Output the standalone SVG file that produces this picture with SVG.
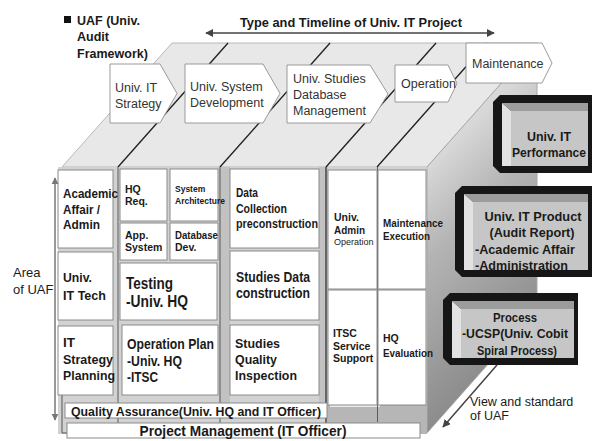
<svg xmlns="http://www.w3.org/2000/svg" width="596" height="441" viewBox="0 0 596 441">
<defs>
<style>
.t{font-family:"Liberation Sans",Arial,sans-serif;fill:#1a1a1a}
.b{font-weight:bold}
.ch{font-size:12.5px;fill:#333}
.cell{fill:#fff;stroke:#8a8a8a;stroke-width:1}
.chev{fill:#fff;stroke:#9a9a9a;stroke-width:1}
.dl{stroke:#1e1e1e;stroke-width:1.3}
.col{stroke:#5a5a5a;stroke-width:1}
.blk{fill:#161616}
.bt{fill:#9c9c9c}
.bl{fill:#e2e2e2}
.bf{fill:#c6c6c6}
.arr{fill:none;stroke-width:1.5}
</style>
<linearGradient id="side" x1="427" y1="167" x2="560" y2="300" gradientUnits="userSpaceOnUse">
<stop offset="0" stop-color="#d8d8d8"/>
<stop offset="0.35" stop-color="#b4b4b4"/>
<stop offset="1" stop-color="#8c8c8c"/>
</linearGradient>
<marker id="ahD" viewBox="0 0 10 10" refX="9" refY="5" markerWidth="8" markerHeight="8" markerUnits="userSpaceOnUse" orient="auto-start-reverse">
<path d="M0,0 L10,5 L0,10 z" fill="#444"/>
</marker>
<marker id="ahG" viewBox="0 0 10 10" refX="9" refY="5" markerWidth="7" markerHeight="8" markerUnits="userSpaceOnUse" orient="auto-start-reverse">
<path d="M0,0 L10,5 L0,10 z" fill="#777"/>
</marker>
</defs>
<rect width="596" height="441" fill="#fff"/>

<!-- title -->
<g id="title">
<rect x="64" y="16" width="7" height="7" fill="#111"/>
<text class="t b" font-size="12.5" x="77" y="25">UAF (Univ.</text>
<text class="t b" font-size="12.5" x="77" y="41">Audit</text>
<text class="t b" font-size="12.5" x="77" y="58">Framework)</text>
</g>
<g id="timeline-title">
<text class="t b" font-size="13" x="240" y="27" textLength="222" lengthAdjust="spacingAndGlyphs">Type and Timeline of Univ. IT Project</text>
</g>

<!-- cube top face -->
<g id="top-face">
<polygon points="62,167 172,43 537,43 427,167" fill="#e8e8e8" stroke="#b8b8b8" stroke-width="1"/>
<line class="dl" x1="118" y1="167" x2="228" y2="43"/>
<line class="dl" x1="220" y1="167" x2="330" y2="43"/>
<line class="dl" x1="326" y1="167" x2="436" y2="43"/>
<line class="dl" x1="377" y1="167" x2="487" y2="43"/>
</g>

<!-- cube right face -->
<g id="right-face">
<polygon points="427,167 537,43 537,309 427,433" fill="url(#side)" stroke="#a8a8a8" stroke-width="1"/>
</g>

<!-- chevrons -->
<g id="stage-strategy">
<polygon class="chev" points="110,64 160,64 177,93.5 160,123 110,123"/>
<text class="t ch" x="115" y="92">Univ. IT</text>
<text class="t ch" x="115" y="108">Strategy</text>
</g>
<g id="stage-system">
<polygon class="chev" points="185,64 263,64 280,93.5 263,123 185,123"/>
<text class="t ch" x="190" y="91">Univ. System</text>
<text class="t ch" x="190" y="107">Development</text>
</g>
<g id="stage-database">
<polygon class="chev" points="287,65 370,65 388,94 370,123 287,123"/>
<text class="t ch" x="293" y="83">Univ. Studies</text>
<text class="t ch" x="293" y="99">Database</text>
<text class="t ch" x="293" y="115">Management</text>
</g>
<g id="stage-operation">
<polygon class="chev" points="395,65 448,65 457,83.5 448,102 395,102"/>
<text class="t ch" x="401" y="88">Operation</text>
</g>
<g id="stage-maintenance">
<polygon class="chev" points="466,43 542,43 552,63 542,83 466,83"/>
<text class="t ch" x="472" y="68">Maintenance</text>
</g>

<!-- front face -->
<g id="front-face">
<rect x="58" y="167" width="369" height="267" fill="#d2d2d2"/>
<rect x="219" y="167" width="11" height="236" fill="#c2c2c2"/>
<rect x="319" y="167" width="9" height="236" fill="#c2c2c2"/>
<rect x="327" y="405" width="100" height="29" fill="#b6b6b6"/>
<rect x="330" y="403" width="50" height="4" fill="#ececec"/>
<line x1="62" y1="395" x2="62" y2="433" stroke="#555" stroke-width="1"/>
<line x1="62" y1="433" x2="67" y2="433" stroke="#555" stroke-width="1"/>
<line class="col" x1="118" y1="167" x2="118" y2="433"/>
<line class="col" x1="220" y1="167" x2="220" y2="433"/>
<line x1="326" y1="167" x2="326" y2="433" stroke="#333" stroke-width="1.3"/>
<line class="col" x1="377.5" y1="167" x2="377.5" y2="422"/>
</g>

<g id="cell-academic">
<rect class="cell" x="58" y="170" width="55" height="78"/>
<text class="t b" font-size="13.5" x="63" y="198" textLength="55" lengthAdjust="spacingAndGlyphs">Academic</text>
<text class="t b" font-size="13.5" x="63" y="214" textLength="37" lengthAdjust="spacingAndGlyphs">Affair /</text>
<text class="t b" font-size="13.5" x="63" y="229" textLength="37" lengthAdjust="spacingAndGlyphs">Admin</text>
</g>
<g id="cell-ittech">
<rect class="cell" x="58" y="252" width="55" height="68"/>
<text class="t b" font-size="13.5" x="63" y="282" textLength="29" lengthAdjust="spacingAndGlyphs">Univ.</text>
<text class="t b" font-size="13.5" x="63" y="300" textLength="43" lengthAdjust="spacingAndGlyphs">IT Tech</text>
</g>
<g id="cell-itplanning">
<rect class="cell" x="58" y="326" width="55" height="69"/>
<text class="t b" font-size="13.5" x="63" y="347">IT</text>
<text class="t b" font-size="13.5" x="63" y="363.5" textLength="50" lengthAdjust="spacingAndGlyphs">Strategy</text>
<text class="t b" font-size="13.5" x="63" y="380" textLength="52" lengthAdjust="spacingAndGlyphs">Planning</text>
</g>

<g id="cell-hqreq">
<rect class="cell" x="120" y="169" width="47" height="52"/>
<text class="t b" font-size="10.5" x="125" y="193">HQ</text>
<text class="t b" font-size="10.5" x="125" y="205">Req.</text>
</g>
<g id="cell-sysarch">
<rect class="cell" x="170" y="169" width="48" height="52"/>
<text class="t b" font-size="8.5" x="175" y="192">System</text>
<text class="t b" font-size="8.5" x="175" y="204">Architecture</text>
</g>
<g id="cell-appsys">
<rect class="cell" x="120" y="223" width="47" height="37"/>
<text class="t b" font-size="10.5" x="125" y="239">App.</text>
<text class="t b" font-size="10.5" x="125" y="251">System</text>
</g>
<g id="cell-dbdev">
<rect class="cell" x="170" y="223" width="48" height="37"/>
<text class="t b" font-size="10.5" x="175" y="239" textLength="43" lengthAdjust="spacingAndGlyphs">Database</text>
<text class="t b" font-size="10.5" x="175" y="251">Dev.</text>
</g>
<g id="cell-testing">
<rect class="cell" x="120" y="263" width="97" height="57"/>
<text class="t b" font-size="17" x="126" y="289" textLength="47" lengthAdjust="spacingAndGlyphs">Testing</text>
<text class="t b" font-size="17" x="126" y="307" textLength="62" lengthAdjust="spacingAndGlyphs">-Univ. HQ</text>
</g>
<g id="cell-opplan">
<rect class="cell" x="122" y="325" width="96" height="70"/>
<text class="t b" font-size="15" x="127" y="349" textLength="87" lengthAdjust="spacingAndGlyphs">Operation Plan</text>
<text class="t b" font-size="15" x="127" y="366" textLength="55" lengthAdjust="spacingAndGlyphs">-Univ. HQ</text>
<text class="t b" font-size="15" x="127" y="382" textLength="31" lengthAdjust="spacingAndGlyphs">-ITSC</text>
</g>

<g id="cell-datacollection">
<rect class="cell" x="230" y="169" width="89" height="79"/>
<text class="t b" font-size="12.5" x="236" y="197" textLength="22" lengthAdjust="spacingAndGlyphs">Data</text>
<text class="t b" font-size="12.5" x="236" y="213" textLength="51" lengthAdjust="spacingAndGlyphs">Collection</text>
<text class="t b" font-size="12.5" x="236" y="228" textLength="82" lengthAdjust="spacingAndGlyphs">preconstruction</text>
</g>
<g id="cell-studiesdata">
<rect class="cell" x="230" y="251" width="89" height="69"/>
<text class="t b" font-size="14" x="236" y="282" textLength="74" lengthAdjust="spacingAndGlyphs">Studies Data</text>
<text class="t b" font-size="14" x="236" y="298" textLength="74" lengthAdjust="spacingAndGlyphs">construction</text>
</g>
<g id="cell-quality">
<rect class="cell" x="230" y="325" width="89" height="70"/>
<text class="t b" font-size="13.5" x="235" y="348" textLength="45" lengthAdjust="spacingAndGlyphs">Studies</text>
<text class="t b" font-size="13.5" x="235" y="364" textLength="42" lengthAdjust="spacingAndGlyphs">Quality</text>
<text class="t b" font-size="13.5" x="235" y="380" textLength="62" lengthAdjust="spacingAndGlyphs">Inspection</text>
</g>

<g id="cell-adminop">
<rect class="cell" x="328" y="170" width="49" height="119"/>
<text class="t b" font-size="10.5" x="334" y="221">Univ.</text>
<text class="t b" font-size="10.5" x="334" y="234" textLength="31" lengthAdjust="spacingAndGlyphs">Admin</text>
<text class="t" font-size="9" x="334" y="245">Operation</text>
</g>
<g id="cell-maintexec">
<rect class="cell" x="378" y="170" width="48" height="119"/>
<text class="t b" font-size="10.5" x="383" y="227" textLength="60" lengthAdjust="spacingAndGlyphs">Maintenance</text>
<text class="t b" font-size="10.5" x="383" y="240" textLength="47" lengthAdjust="spacingAndGlyphs">Execution</text>
</g>
<g id="cell-itsc">
<rect class="cell" x="328" y="290" width="49" height="115"/>
<text class="t b" font-size="10.5" x="333" y="337">ITSC</text>
<text class="t b" font-size="10.5" x="333" y="350">Service</text>
<text class="t b" font-size="10.5" x="333" y="362">Support</text>
</g>
<g id="cell-hqeval">
<rect class="cell" x="378" y="290" width="48" height="115"/>
<text class="t b" font-size="10.5" x="383" y="342">HQ</text>
<text class="t b" font-size="10.5" x="383" y="357" textLength="50" lengthAdjust="spacingAndGlyphs">Evaluation</text>
</g>

<g id="band-qa">
<rect class="cell" x="65" y="403" width="262" height="15"/>
<text class="t b" font-size="13" x="196" y="415.5" text-anchor="middle" textLength="250" lengthAdjust="spacingAndGlyphs">Quality Assurance(Univ.  HQ and IT Officer)</text>
</g>
<g id="band-pm">
<rect class="cell" x="67" y="423" width="353" height="15"/>
<text class="t b" font-size="15" x="243" y="436" text-anchor="middle" textLength="207" lengthAdjust="spacingAndGlyphs">Project Management (IT Officer)</text>
</g>

<!-- right 3D boxes -->
<g id="box-performance">
<polygon class="blk" points="500,95 592,95 592,173 500,173 493,166 493,102"/>
<polygon class="bt" points="502,103 588,103 588,111 511,111"/>
<polygon class="bl" points="502,103 511,111 511,166 502,166"/>
<rect class="bf" x="511" y="111" width="77" height="55"/>
<text class="t b" font-size="13" x="549" y="141" text-anchor="middle" textLength="44" lengthAdjust="spacingAndGlyphs">Univ. IT</text>
<text class="t b" font-size="13" x="549" y="156.5" text-anchor="middle" textLength="74" lengthAdjust="spacingAndGlyphs">Performance</text>
</g>
<g id="box-product">
<polygon class="blk" points="462,186 592,186 592,277 462,277 455,270 455,193"/>
<polygon class="bt" points="464,194 588,194 588,202 473,202"/>
<polygon class="bl" points="464,194 473,202 473,270 464,270"/>
<rect class="bf" x="473" y="202" width="115" height="68"/>
<text class="t b" font-size="13" x="533" y="221" text-anchor="middle" textLength="97" lengthAdjust="spacingAndGlyphs">Univ. IT Product</text>
<text class="t b" font-size="13" x="532" y="237" text-anchor="middle" textLength="85" lengthAdjust="spacingAndGlyphs">(Audit Report)</text>
<text class="t b" font-size="13" x="475" y="254" textLength="100" lengthAdjust="spacingAndGlyphs">-Academic Affair</text>
<text class="t b" font-size="13" x="475" y="270" textLength="93" lengthAdjust="spacingAndGlyphs">-Administration</text>
</g>
<g id="box-process">
<polygon class="blk" points="450,293 578,293 578,365 450,365 443,358 443,300"/>
<polygon class="bt" points="452,301 574,301 574,309 461,309"/>
<polygon class="bl" points="452,301 461,309 461,358 452,358"/>
<rect class="bf" x="461" y="309" width="113" height="49"/>
<text class="t b" font-size="13" x="515" y="322" text-anchor="middle" textLength="44" lengthAdjust="spacingAndGlyphs">Process</text>
<text class="t b" font-size="13" x="515" y="338" text-anchor="middle" textLength="106" lengthAdjust="spacingAndGlyphs">-UCSP(Univ. Cobit</text>
<text class="t b" font-size="13" x="517" y="355" text-anchor="middle" textLength="80" lengthAdjust="spacingAndGlyphs">Spiral Process)</text>
</g>

<g id="label-area">
<text class="t" font-size="13" x="13" y="277">Area</text>
<text class="t" font-size="13" x="13" y="294">of UAF</text>
</g>
<g id="label-view">
<text class="t" font-size="12.5" x="470" y="406">View and standard</text>
<text class="t" font-size="12.5" x="470" y="420">of UAF</text>
</g>

<!-- connectors -->
<g id="connectors">
<line class="arr" x1="206" y1="33" x2="494" y2="33" stroke="#444" marker-start="url(#ahD)" marker-end="url(#ahD)"/>
<line class="arr" x1="55" y1="178" x2="55" y2="420" stroke="#777" stroke-width="1.3" marker-start="url(#ahG)" marker-end="url(#ahG)"/>
<line class="arr" x1="497" y1="365" x2="443" y2="427" stroke="#444" marker-end="url(#ahD)"/>
</g>
</svg>
